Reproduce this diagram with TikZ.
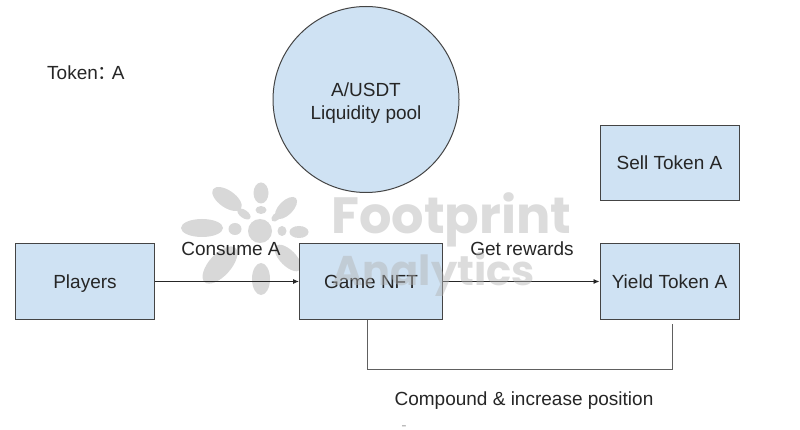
\documentclass[tikz,border=0pt]{standalone}
\usepackage{fontspec}
\setmainfont{Liberation Sans}
\newfontfamily\cjk{Noto Sans CJK SC}
\newfontfamily\wmfont{Poppins}[BoldFont={Poppins Bold}]
\definecolor{boxfill}{HTML}{CFE2F3}
\definecolor{edge}{HTML}{444444}
\definecolor{wm}{HTML}{D8D8D8}
\usetikzlibrary{arrows.meta}
\tikzset{
  blockbox/.style={draw=edge,line width=1pt,fill=boxfill,minimum width=#1,minimum height=75pt,inner sep=0pt,text height=17pt,text depth=4pt,font=\fontsize{19}{22}\selectfont,text=black!85},
  poolcircle/.style={draw=edge,line width=1pt,fill=boxfill,circle,minimum size=186pt,inner sep=0pt,align=center,font=\fontsize{19}{23}\selectfont,text=black!85},
  lbl/.style={font=\fontsize{19}{22}\selectfont,text=black!85,inner sep=0pt},
  conn/.style={draw=black!85,line width=0.9pt,-{Latex[length=6pt,width=5pt]}},
  bracket/.style={draw=edge!85,line width=0.9pt},
  petal/.style={fill=wm},
  wmtext/.style={font=\wmfont\bfseries\fontsize{#1}{#1}\selectfont,text=gray!60,text opacity=0.45,inner sep=0pt}
}
\begin{document}
\begin{tikzpicture}[x=1pt,y=-1pt]
\useasboundingbox (0,0) rectangle (800,430);
\fill[white] (0,0) rectangle (800,430);
% logo mark
\fill[petal] (260,231) circle (12);
\fill[petal] (261,193) ellipse [x radius=7.5,y radius=10.5];
\fill[petal,rotate around={-35:(227,199)}] (227,199) ellipse [x radius=17,y radius=8.5];
\fill[petal] (202,228) ellipse [x radius=21,y radius=9];
\fill[petal,rotate around={48:(220,265)}] (220,265) ellipse [x radius=23,y radius=11];
\fill[petal] (261,279) ellipse [x radius=9,y radius=16];
\fill[petal,rotate around={-45:(288,258)}] (288,258) ellipse [x radius=17,y radius=8];
\fill[petal] (299,232) ellipse [x radius=9.5,y radius=6];
\fill[petal,rotate around={45:(286,208)}] (286,208) ellipse [x radius=14,y radius=7];
\fill[petal] (261,210) ellipse [x radius=5.5,y radius=4];
\fill[petal,rotate around={-35:(244,214)}] (244,214) ellipse [x radius=7.5,y radius=4];
\fill[petal,rotate around={45:(276,217)}] (276,217) ellipse [x radius=5.5,y radius=3.5];
\fill[petal] (235,229) ellipse [x radius=6.5,y radius=6];
\fill[petal] (282,231) ellipse [x radius=4.5,y radius=5];
% shapes
\node[poolcircle] (pool) at (366,99.5) {\rule{0pt}{21pt}A/USDT\\Liquidity pool};
\node[blockbox=139pt] (sell) at (669.5,163.5) {Sell Token A};
\node[blockbox=139pt] (players) at (85,281.5) {Players};
\node[blockbox=143pt] (game) at (371,281.5) {Game NFT};
\node[blockbox=139pt] (yield) at (669.5,281.5) {Yield Token A};
\coordinate (loopend) at (672,324);
\coordinate (loopa) at (367,369);
\coordinate (loopb) at (672,369);
\draw[conn] (players.east) -- (game.west);
\draw[conn] (game.east) -- (yield.west);
\draw[bracket] (game.south -| loopa) -- (loopa) -- (loopb) -- (loopend);
% labels
\node[lbl,anchor=west] (token) at (47,73) {Token{\cjk ：}\hspace{-5pt}A};
\node[lbl] (consume) at (231,249) {Consume A};
\node[lbl] (rewards) at (522,249) {Get rewards};
\node[lbl] (compound) at (524,401) {Compound \& increase position};
\node[lbl,font=\fontsize{8}{9}\selectfont,text=black!60] (dash) at (404,427) {\scalebox{2}[1]{-}};
% watermark
\node[wmtext=51,anchor=base west] (wma) at (331,234) {Footprint};
\node[wmtext=41.5,anchor=base west] (wmb) at (332,286) {Analytics};
\end{tikzpicture}
\end{document}
